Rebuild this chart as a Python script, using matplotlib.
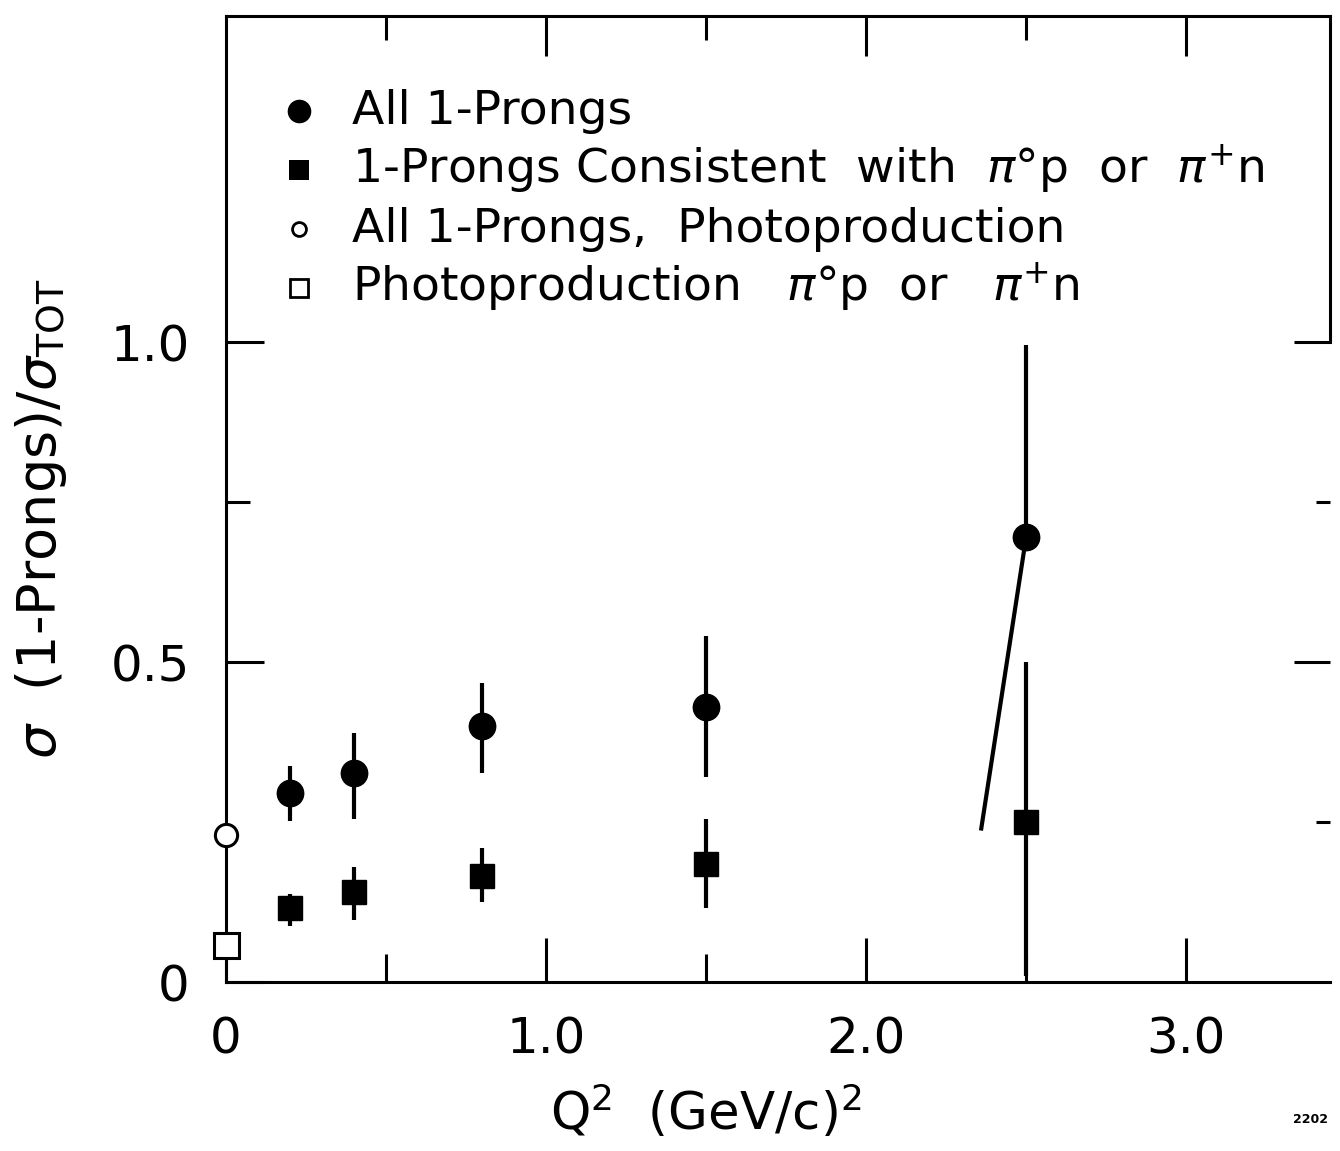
import matplotlib.pyplot as plt

# Q^2 bins (GeV/c)^2
q2 = [0.2, 0.4, 0.8, 1.5, 2.5]

# all 1-prongs
ratio_all = [0.295, 0.326, 0.40, 0.43, 0.695]
all_hi = [0.337, 0.39, 0.467, 0.541, 0.996]
all_lo = [0.251, 0.255, 0.326, 0.321, 0.24]
# lower end of the last bar is drawn slanted in the original, ending here
last_lo_q2 = 2.36

# 1-prongs consistent with pi0 p or pi+ n
ratio_pin = [0.115, 0.14, 0.165, 0.185, 0.25]
pin_hi = [0.138, 0.18, 0.209, 0.255, 0.50]
pin_lo = [0.088, 0.097, 0.125, 0.115, 0.01]

# photoproduction (Q^2 = 0)
photo_q2 = [0.0]
photo_all = [0.23]
photo_pin = [0.058]

legend_labels = [
    "All 1-Prongs",
    r"1-Prongs Consistent  with  $\pi$°p  or  $\pi^{+}$n",
    "All 1-Prongs,  Photoproduction",
    r"Photoproduction   $\pi$°p  or   $\pi^{+}$n",
]

fig = plt.figure(figsize=(13.4, 11.51), dpi=100)
ax = fig.add_axes([0.1687, 0.1468, 0.8239, 0.8393])

# filled circles
yerr_all = [[r - l for r, l in zip(ratio_all[:4], all_lo[:4])],
            [h - r for r, h in zip(ratio_all[:4], all_hi[:4])]]
ax.errorbar(q2[:4], ratio_all[:4], yerr=yerr_all, fmt='o', ms=19, color='black',
            elinewidth=3, capsize=0, zorder=3)
ax.errorbar(q2[4:], ratio_all[4:], yerr=[[0], [all_hi[4] - ratio_all[4]]], fmt='o',
            ms=19, color='black', elinewidth=3, capsize=0, zorder=3)
ax.plot([q2[4], last_lo_q2], [ratio_all[4], all_lo[4]], color='black', lw=3, zorder=3)

# filled squares
yerr_pin = [[r - l for r, l in zip(ratio_pin, pin_lo)],
            [h - r for r, h in zip(ratio_pin, pin_hi)]]
ax.errorbar(q2, ratio_pin, yerr=yerr_pin, fmt='s', ms=17, color='black',
            elinewidth=3, capsize=0, zorder=3)

# open photoproduction points sit on the axis
ax.plot(photo_q2, photo_all, 'o', ms=16, mfc='white', mec='black', mew=2.2,
        clip_on=False, zorder=4)
ax.plot(photo_q2, photo_pin, 's', ms=18, mfc='white', mec='black', mew=2.2,
        clip_on=False, zorder=4)

ax.set_xlim(0, 3.45)
ax.set_ylim(0, 1.51)

for s in ax.spines.values():
    s.set_linewidth(2.2)
ax.spines['right'].set_bounds(1.0, 1.51)

ax.set_xticks([0, 1, 2, 3])
ax.set_xticklabels(['0', '1.0', '2.0', '3.0'])
ax.set_xticks([0.5, 1.5, 2.5], minor=True)
ax.set_yticks([0, 0.5, 1.0])
ax.set_yticklabels(['0', '0.5', '1.0'])
ax.set_yticks([0.75], minor=True)
ax.tick_params(axis='x', which='major', direction='in', length=32, width=2.2,
               pad=24, labelsize=36)
ax.tick_params(axis='x', which='minor', direction='in', length=20, width=2.2)
ax.tick_params(axis='y', which='major', direction='in', length=27, width=2.2,
               pad=26, labelsize=36)
ax.tick_params(axis='y', which='minor', direction='in', length=17, width=2.2)

top = ax.secondary_xaxis('top')
top.set_xticks([1, 2, 3])
top.set_xticks([0.5, 1.5, 2.5], minor=True)
top.tick_params(which='major', direction='in', length=29, width=2.2, labeltop=False)
top.tick_params(which='minor', direction='in', length=17, width=2.2)
for s in top.spines.values():
    s.set_visible(False)

right = ax.secondary_yaxis('right')
right.set_yticks([0.5, 1.0])
right.set_yticks([0.25, 0.75], minor=True)
right.tick_params(which='major', direction='in', length=26, width=2.2, labelright=False)
right.tick_params(which='minor', direction='in', length=10, width=2.2)
for s in right.spines.values():
    s.set_visible(False)

# hand-drawn style key
key_styles = [('o', 17, 'black', 0), ('s', 14, 'black', 0),
              ('o', 10, 'white', 2), ('s', 13, 'white', 2)]
for i, (lab, (m, ms, fc, mew)) in enumerate(zip(legend_labels, key_styles)):
    yb = 0.888 - i * 0.061
    ax.plot(0.066, yb + 0.0135, marker=m, ms=ms, mfc=fc, mec='black', mew=mew,
            color='black', transform=ax.transAxes, clip_on=False)
    ax.text(0.114, yb, lab, fontsize=34, va='baseline', ha='left',
            transform=ax.transAxes)

ax.set_xlabel(r"Q$^2$  (GeV/c)$^2$", fontsize=37)
ax.xaxis.set_label_coords(0.435, -0.105)
ax.set_ylabel(r"$\sigma$  (1-Prongs)/$\sigma_{\rm TOT}$", fontsize=39)
ax.yaxis.set_label_coords(-0.142, 0.48)

fig.text(0.978, 0.024, '2202', fontsize=9, fontweight='bold', ha='center')

fig.savefig('out.png', dpi=100)
